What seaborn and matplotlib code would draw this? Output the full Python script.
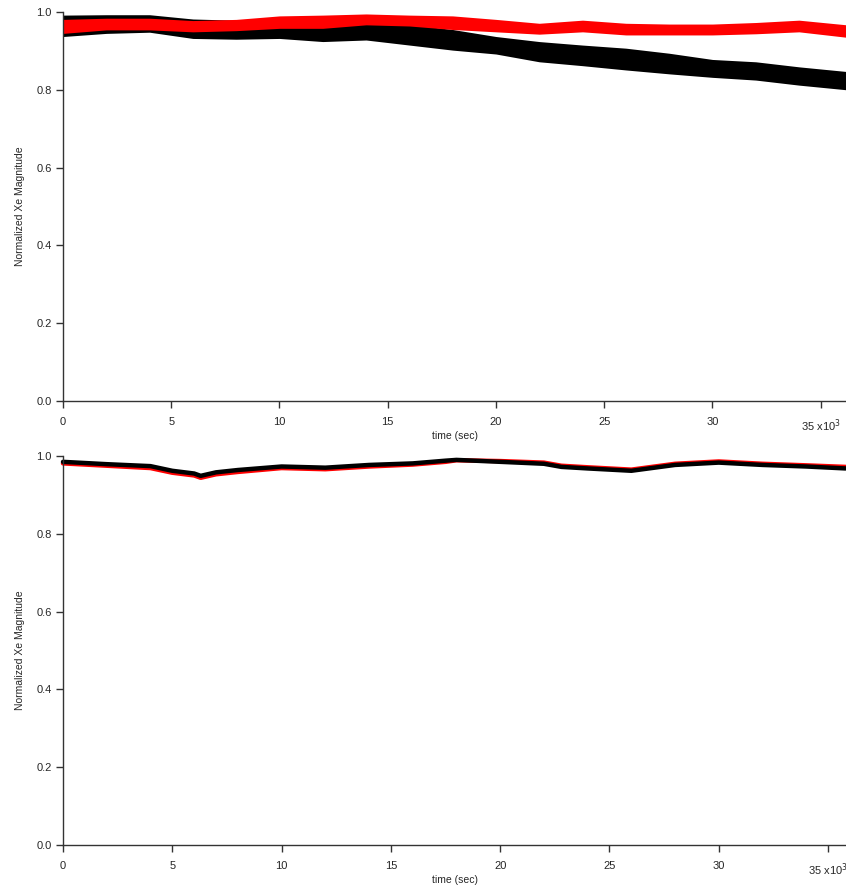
import matplotlib
matplotlib.use("Agg")
import matplotlib.pyplot as plt
import matplotlib.ticker as mticker
import pandas as pd
import seaborn as sns

# ---- data: time in thousands of seconds ----
# upper panel: noisy bands, given by their lower and upper envelopes
band_t = [0, 2, 4, 6, 8, 10, 12, 14, 16, 18, 20, 22, 24, 26, 28, 30, 32, 34, 36.2]
black_hi = [0.992, 0.993, 0.993, 0.982, 0.979, 0.984, 0.977, 0.981, 0.968, 0.955,
            0.937, 0.924, 0.915, 0.907, 0.894, 0.878, 0.872, 0.859, 0.847]
black_lo = [0.937, 0.945, 0.948, 0.932, 0.930, 0.932, 0.924, 0.928, 0.915, 0.902,
            0.892, 0.872, 0.862, 0.851, 0.841, 0.832, 0.825, 0.812, 0.800]
red_hi = [0.981, 0.984, 0.984, 0.978, 0.981, 0.990, 0.992, 0.995, 0.992, 0.990,
          0.981, 0.971, 0.979, 0.971, 0.969, 0.969, 0.973, 0.979, 0.967]
red_lo = [0.945, 0.954, 0.954, 0.949, 0.952, 0.958, 0.958, 0.967, 0.964, 0.955,
          0.949, 0.943, 0.949, 0.941, 0.941, 0.941, 0.944, 0.949, 0.935]

# lower panel: two nearly coincident traces
line_t = [0, 2, 4, 5, 6, 6.3, 7, 8, 10, 12, 14, 16, 17.5, 18, 20, 22, 22.8,
          24, 26, 28, 30, 32, 34, 35.8]
black_line = [0.985, 0.979, 0.974, 0.962, 0.955, 0.949, 0.958, 0.964, 0.973,
              0.970, 0.977, 0.981, 0.988, 0.990, 0.985, 0.980, 0.972,
              0.968, 0.962, 0.977, 0.983, 0.977, 0.973, 0.968]
red_line = [0.981, 0.975, 0.969, 0.957, 0.950, 0.944, 0.953, 0.959, 0.969,
            0.966, 0.973, 0.978, 0.985, 0.989, 0.987, 0.983, 0.975,
            0.971, 0.965, 0.980, 0.986, 0.980, 0.976, 0.972]

x_ticks = [0, 5, 10, 15, 20, 25, 30, 35]
y_ticks = [0.0, 0.2, 0.4, 0.6, 0.8, 1.0]

sns.set_style("ticks")
plt.rcParams["font.family"] = ["Liberation Sans", "DejaVu Sans"]

W, H = 846, 886
fig = plt.figure(figsize=(W / 100, H / 100), dpi=100)


def ax_rect(left, right, bottom, top):
    return [left / W, 1 - bottom / H, (right - left) / W, (bottom - top) / H]


ax1 = fig.add_axes(ax_rect(63, 846, 401, 12))
ax2 = fig.add_axes(ax_rect(63, 846, 845, 456))


def band_frame(t, lo, hi):
    return pd.DataFrame({"t": list(t) + list(t), "v": list(lo) + list(hi)})


for lo, hi, col in [(black_lo, black_hi, "black"), (red_lo, red_hi, "#ff0000")]:
    sns.lineplot(data=band_frame(band_t, lo, hi), x="t", y="v", ax=ax1,
                 estimator="mean", errorbar=("pi", 100), color=col,
                 linewidth=0, err_kws={"alpha": 1, "linewidth": 0})

sns.lineplot(x=line_t, y=red_line, ax=ax2, color="#ff0000", linewidth=3.2)
sns.lineplot(x=line_t, y=black_line, ax=ax2, color="black", linewidth=3.2)


def fmt_x(v, pos):
    k = int(round(v))
    return "35 x10$^{3}$" if k == 35 else str(k)


for ax, xmax in [(ax1, 36.17), (ax2, 35.82)]:
    ax.set_xlim(0, xmax)
    ax.set_ylim(0, 1.0)
    ax.set_xticks(x_ticks)
    ax.set_yticks(y_ticks)
    ax.xaxis.set_major_formatter(mticker.FuncFormatter(fmt_x))
    ax.yaxis.set_major_formatter(mticker.FormatStrFormatter("%.1f"))
    ax.set_xlabel("time (sec)", fontsize=7.5, labelpad=-2)
    ax.set_ylabel("Normalized Xe Magnitude", fontsize=7.5, labelpad=8)
    ax.tick_params(axis="both", labelsize=8, width=1, color="#333333",
                   length=5, pad=3)
    ax.tick_params(axis="x", length=5, pad=6.5)
    for s in ["top", "right"]:
        ax.spines[s].set_visible(False)
    for s in ["left", "bottom"]:
        ax.spines[s].set_color("#333333")
        ax.spines[s].set_linewidth(1)
    ax.set_facecolor("white")
    # the traces run slightly past the 1.0 tick at the top of the axis
    for art in list(ax.collections) + list(ax.lines):
        art.set_clip_on(False)

fig.savefig("out.png", dpi=100, facecolor="white")
